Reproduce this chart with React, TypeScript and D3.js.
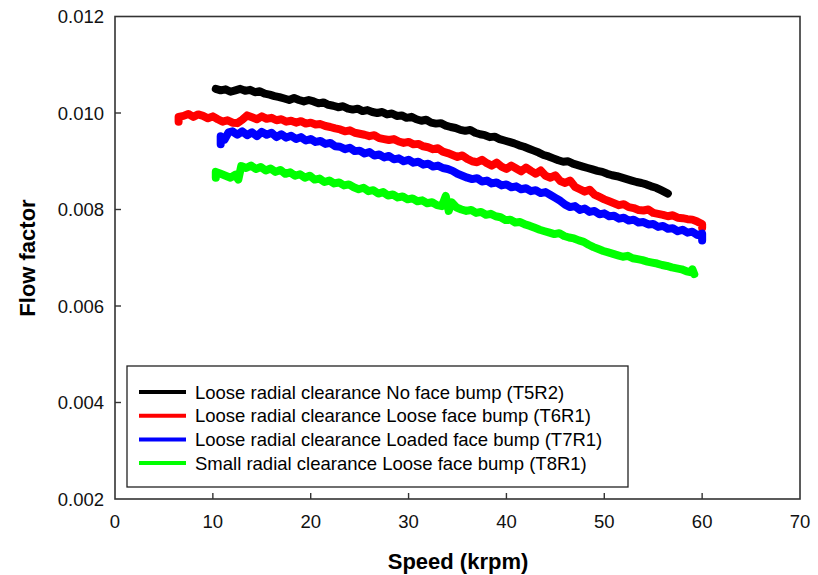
import React from "react";
import * as d3 from "d3";

const xTicks = [0, 10, 20, 30, 40, 50, 60, 70];
const yTicks = [0.002, 0.004, 0.006, 0.008, 0.01, 0.012];
const yTickLabels = ["0.002", "0.004", "0.006", "0.008", "0.010", "0.012"];

const seriesNames = [
  "Loose radial clearance No face bump (T5R2)",
  "Loose radial clearance Loose face bump (T6R1)",
  "Loose radial clearance Loaded face bump (T7R1)",
  "Small radial clearance Loose face bump (T8R1)",
];
const seriesColors = ["#000000", "#ff0000", "#0000ff", "#00ff00"];

// values of flow factor in units of 1e-3
const t5r2: [number, number][] = [
  [10.3,10.50],[10.8,10.47],[11.3,10.49],[11.8,10.44],[12.3,10.47],[12.8,10.50],[13.3,10.46],[13.8,10.48],[14.3,10.43],[14.8,10.45],[15.3,10.40],[15.8,10.38],[16.3,10.35],[16.8,10.33],[17.3,10.30],[17.8,10.27],[18.3,10.31],[18.8,10.27],[19.3,10.24],[19.8,10.27],[20.3,10.24],[20.8,10.20],[21.3,10.22],[21.8,10.17],[22.3,10.15],[22.8,10.12],[23.3,10.14],[23.8,10.09],[24.3,10.07],[24.8,10.09],[25.3,10.04],[25.8,10.06],[26.3,10.02],[26.8,10.00],[27.3,10.02],[27.8,9.97],[28.3,9.99],[28.8,9.94],[29.3,9.95],[29.8,9.90],[30.3,9.92],[30.8,9.87],[31.3,9.84],[31.8,9.86],[32.3,9.80],[32.8,9.78],[33.3,9.79],[33.8,9.74],[34.3,9.71],[34.8,9.69],[35.3,9.65],[35.8,9.63],[36.3,9.65],[36.8,9.59],[37.3,9.56],[37.8,9.54],[38.3,9.50],[38.8,9.51],[39.3,9.46],[39.8,9.43],[40.3,9.40],[40.8,9.37],[41.3,9.33],[41.8,9.30],[42.3,9.26],[42.8,9.22],[43.3,9.18],[43.8,9.13],[44.3,9.10],[44.8,9.06],[45.3,9.02],[45.8,8.99],[46.3,9.00],[46.8,8.95],[47.3,8.92],[47.8,8.89],[48.3,8.86],[48.8,8.83],[49.3,8.80],[49.8,8.78],[50.3,8.74],[50.8,8.71],[51.3,8.69],[51.8,8.66],[52.3,8.63],[52.8,8.60],[53.3,8.57],[53.8,8.55],[54.3,8.52],[54.8,8.48],[55.3,8.45],[55.8,8.40],[56.2,8.36],[56.5,8.33],
];
const t6r1: [number, number][] = [
  [6.5,9.82],[6.5,9.92],[7.0,9.94],[7.5,9.98],[8.0,9.92],[8.5,9.97],[9.0,9.94],[9.5,9.89],[10.0,9.93],[10.5,9.87],[11.0,9.82],[11.5,9.85],[12.0,9.80],[12.5,9.79],[13.0,9.86],[13.5,9.95],[14.0,9.91],[14.5,9.87],[15.0,9.93],[15.5,9.88],[16.0,9.90],[16.5,9.85],[17.0,9.87],[17.5,9.82],[18.0,9.84],[18.5,9.80],[19.0,9.83],[19.5,9.78],[20.0,9.80],[20.5,9.76],[21.0,9.77],[21.5,9.73],[22.0,9.71],[22.5,9.68],[23.0,9.66],[23.5,9.62],[24.0,9.64],[24.5,9.59],[25.0,9.57],[25.5,9.55],[26.0,9.52],[26.5,9.54],[27.0,9.48],[27.5,9.46],[28.0,9.44],[28.5,9.46],[29.0,9.41],[29.5,9.38],[30.0,9.40],[30.5,9.35],[31.0,9.36],[31.5,9.31],[32.0,9.29],[32.5,9.25],[33.0,9.27],[33.5,9.20],[34.0,9.17],[34.5,9.13],[35.0,9.09],[35.5,9.12],[36.0,9.05],[36.5,9.00],[37.0,8.98],[37.5,9.03],[38.0,8.96],[38.5,8.91],[39.0,8.97],[39.5,8.89],[40.0,8.84],[40.5,8.91],[41.0,8.85],[41.5,8.79],[42.0,8.87],[42.5,8.80],[43.0,8.74],[43.5,8.81],[44.0,8.70],[44.5,8.66],[45.0,8.71],[45.5,8.59],[46.0,8.55],[46.5,8.60],[47.0,8.47],[47.5,8.42],[48.0,8.37],[48.5,8.41],[49.0,8.31],[49.5,8.26],[50.0,8.21],[50.5,8.17],[51.0,8.13],[51.5,8.09],[52.0,8.11],[52.5,8.05],[53.0,8.03],[53.5,7.99],[54.0,7.98],[54.5,8.00],[55.0,7.93],[55.5,7.91],[56.0,7.89],[56.5,7.86],[57.0,7.88],[57.5,7.83],[58.0,7.82],[58.5,7.80],[59.0,7.79],[59.5,7.75],[60.0,7.70],[60.0,7.62],
];
const t7r1: [number, number][] = [
  [10.8,9.35],[10.8,9.52],[11.2,9.45],[11.6,9.60],[12.0,9.62],[12.5,9.55],[13.0,9.62],[13.5,9.54],[14.0,9.60],[14.5,9.52],[15.0,9.61],[15.5,9.55],[16.0,9.59],[16.5,9.50],[17.0,9.56],[17.5,9.49],[18.0,9.53],[18.5,9.46],[19.0,9.50],[19.5,9.43],[20.0,9.46],[20.5,9.40],[21.0,9.42],[21.5,9.36],[22.0,9.38],[22.5,9.31],[23.0,9.30],[23.5,9.25],[24.0,9.28],[24.5,9.21],[25.0,9.22],[25.5,9.16],[26.0,9.19],[26.5,9.12],[27.0,9.14],[27.5,9.08],[28.0,9.11],[28.5,9.04],[29.0,9.06],[29.5,9.00],[30.0,9.03],[30.5,8.97],[31.0,8.99],[31.5,8.93],[32.0,8.95],[32.5,8.89],[33.0,8.91],[33.5,8.86],[34.0,8.84],[34.5,8.80],[35.0,8.74],[35.5,8.70],[36.0,8.66],[36.5,8.63],[37.0,8.65],[37.5,8.58],[38.0,8.60],[38.5,8.54],[39.0,8.56],[39.5,8.50],[40.0,8.52],[40.5,8.46],[41.0,8.48],[41.5,8.42],[42.0,8.44],[42.5,8.38],[43.0,8.40],[43.5,8.34],[44.0,8.36],[44.5,8.30],[45.0,8.24],[45.5,8.18],[46.0,8.10],[46.5,8.05],[47.0,8.07],[47.5,7.99],[48.0,8.02],[48.5,7.95],[49.0,7.97],[49.5,7.90],[50.0,7.92],[50.5,7.86],[51.0,7.87],[51.5,7.81],[52.0,7.83],[52.5,7.77],[53.0,7.79],[53.5,7.73],[54.0,7.74],[54.5,7.69],[55.0,7.70],[55.5,7.64],[56.0,7.66],[56.5,7.60],[57.0,7.61],[57.5,7.55],[58.0,7.58],[58.5,7.52],[59.0,7.54],[59.5,7.47],[60.0,7.50],[60.0,7.36],
];
const t8r1: [number, number][] = [
  [10.3,8.66],[10.3,8.78],[10.8,8.74],[11.3,8.70],[11.8,8.66],[12.3,8.72],[12.6,8.62],[12.9,8.90],[13.4,8.86],[13.9,8.91],[14.4,8.84],[14.9,8.88],[15.4,8.81],[15.9,8.85],[16.4,8.78],[16.9,8.82],[17.4,8.74],[17.9,8.77],[18.4,8.70],[18.9,8.73],[19.4,8.66],[19.9,8.70],[20.4,8.62],[20.9,8.64],[21.4,8.57],[21.9,8.60],[22.4,8.54],[22.9,8.56],[23.4,8.50],[23.9,8.52],[24.4,8.46],[24.9,8.42],[25.4,8.45],[25.9,8.38],[26.4,8.40],[26.9,8.33],[27.4,8.36],[27.9,8.29],[28.4,8.31],[28.9,8.25],[29.4,8.27],[29.9,8.21],[30.4,8.23],[30.9,8.17],[31.4,8.19],[31.9,8.13],[32.4,8.15],[32.9,8.09],[33.4,8.07],[33.8,8.28],[34.1,7.97],[34.4,8.15],[34.9,8.04],[35.4,8.00],[35.9,7.97],[36.4,7.99],[36.9,7.93],[37.4,7.95],[37.9,7.89],[38.4,7.91],[38.9,7.86],[39.4,7.84],[39.9,7.78],[40.4,7.79],[40.9,7.73],[41.4,7.74],[41.9,7.69],[42.4,7.66],[42.9,7.62],[43.4,7.58],[43.9,7.55],[44.4,7.52],[44.9,7.49],[45.4,7.51],[45.9,7.45],[46.4,7.42],[46.9,7.40],[47.4,7.36],[47.9,7.33],[48.4,7.27],[48.9,7.22],[49.4,7.18],[49.9,7.14],[50.4,7.11],[50.9,7.08],[51.4,7.05],[51.9,7.02],[52.4,7.04],[52.9,6.99],[53.4,6.97],[53.9,6.95],[54.4,6.92],[54.9,6.90],[55.4,6.88],[55.9,6.85],[56.4,6.83],[56.9,6.80],[57.4,6.78],[57.9,6.76],[58.4,6.72],[58.9,6.70],[59.0,6.76],[59.2,6.66],
];

const allSeries = [t5r2, t6r1, t7r1, t8r1];

const W = 818;
const H = 575;
const L = 115, R = 800, T = 16.5, B = 499;

export default function App() {
  const x = d3.scaleLinear().domain([0, 70]).range([L, R]);
  const y = d3.scaleLinear().domain([0.002, 0.012]).range([B, T]);
  const line = d3
    .line<[number, number]>()
    .x((d) => x(d[0]))
    .y((d) => y(d[1] / 1000));
  const font = "'Liberation Sans', Arial, sans-serif";
  const axisColor = "#333";
  return (
    <svg
      width={W}
      height={H}
      style={{ position: "absolute", left: 0, top: 0, background: "#fff" }}
      fontFamily={font}
    >
      <rect x={0} y={0} width={W} height={H} fill="#fff" />
      {allSeries.map((s, i) => (
        <path
          key={i}
          d={line(s) || ""}
          fill="none"
          stroke={seriesColors[i]}
          strokeWidth={8}
          strokeLinejoin="round"
          strokeLinecap="round"
        />
      ))}
      {/* frame */}
      <rect x={L} y={T} width={R - L} height={B - T} fill="none" stroke={axisColor} strokeWidth={1.6} />
      {xTicks.map((t) => (
        <g key={"x" + t}>
          {t > 0 && t < 70 && (
            <line x1={x(t)} x2={x(t)} y1={B} y2={B - 6} stroke={axisColor} strokeWidth={1.4} />
          )}
          <text x={x(t)} y={527.5} textAnchor="middle" fontSize={18.5} fill="#111">
            {t}
          </text>
        </g>
      ))}
      {yTicks.map((t, i) => (
        <g key={"y" + t}>
          {i > 0 && i < yTicks.length - 1 && (
            <line x1={L} x2={L + 6} y1={y(t)} y2={y(t)} stroke={axisColor} strokeWidth={1.4} />
          )}
          <text x={104} y={y(t) + 6.5} textAnchor="end" fontSize={18.5} fill="#111">
            {yTickLabels[i]}
          </text>
        </g>
      ))}
      <text x={458} y={569} textAnchor="middle" fontSize={22} fontWeight="bold" fill="#000">
        Speed (krpm)
      </text>
      <text
        transform="translate(35,258) rotate(-90)"
        textAnchor="middle"
        fontSize={22}
        fontWeight="bold"
        fill="#000"
      >
        Flow factor
      </text>
      {/* legend */}
      <rect x={127} y={366} width={501} height={121} fill="#fff" stroke="#222" strokeWidth={1.3} />
      {seriesNames.map((n, i) => {
        const cy = 392 + i * 23.7;
        return (
          <g key={n}>
            <line x1={139} x2={186} y1={cy} y2={cy} stroke={seriesColors[i]} strokeWidth={4} />
            <text x={195} y={cy + 6.5} fontSize={18.5} fill="#000">
              {n}
            </text>
          </g>
        );
      })}
    </svg>
  );
}
